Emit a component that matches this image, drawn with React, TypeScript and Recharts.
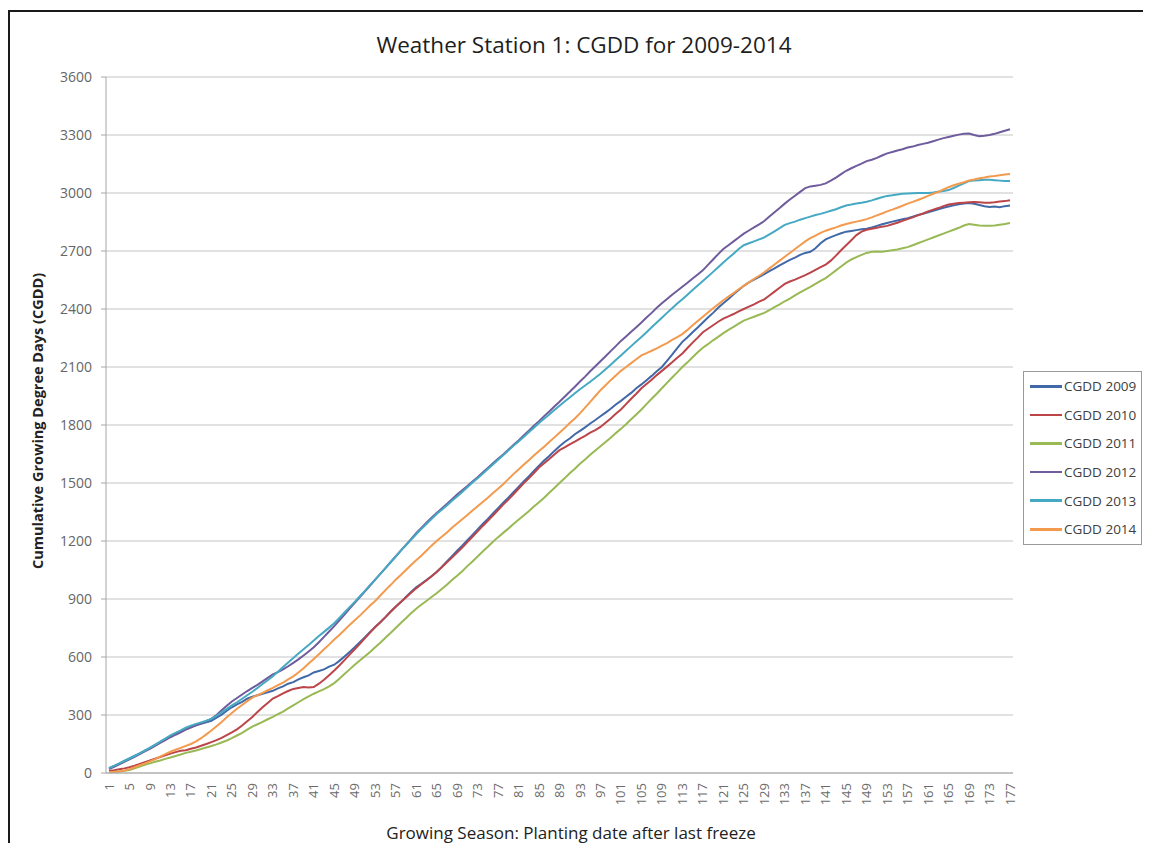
import React from "react";
import { LineChart, Line, XAxis, YAxis, CartesianGrid } from "recharts";

// days after last freeze
const days = Array.from({ length: 177 }, (_, i) => i + 1);

const yTicks = [0, 300, 600, 900, 1200, 1500, 1800, 2100, 2400, 2700, 3000, 3300, 3600];

const cgdd2009 = [
  25, 36, 48, 62, 75, 88, 101, 116, 130, 146, 160, 176, 190, 205, 216, 229, 240, 247, 255, 262, 270,
  286, 302, 322, 340, 355, 368, 384, 395, 402, 410, 418, 425, 438, 448, 462, 470, 484, 495, 505, 520,
  528, 536, 550, 560, 580, 602, 626, 650, 676, 702, 730, 755, 780, 806, 834, 860, 884, 910, 936, 960,
  978, 998, 1018, 1040, 1066, 1094, 1122, 1150, 1176, 1204, 1232, 1260, 1288, 1314, 1342, 1370,
  1398, 1424, 1452, 1480, 1508, 1534, 1562, 1590, 1616, 1640, 1666, 1690, 1712, 1730, 1752, 1770,
  1788, 1808, 1826, 1845, 1864, 1884, 1906, 1925, 1946, 1966, 1990, 2010, 2032, 2054, 2078, 2100,
  2132, 2164, 2198, 2230, 2254, 2280, 2304, 2330, 2356, 2380, 2406, 2430, 2452, 2476, 2498, 2520,
  2538, 2552, 2566, 2580, 2596, 2610, 2626, 2640, 2654, 2666, 2680, 2690, 2696, 2714, 2740, 2760,
  2772, 2782, 2792, 2800, 2804, 2808, 2812, 2815, 2822, 2830, 2838, 2845, 2852, 2858, 2864, 2870,
  2878, 2886, 2892, 2900, 2908, 2916, 2924, 2930, 2936, 2942, 2946, 2948, 2944, 2938, 2932, 2928,
  2930, 2926, 2932, 2935,
];

const cgdd2010 = [
  10, 14, 19, 24, 30, 38, 47, 56, 65, 74, 83, 92, 100, 108, 115, 118, 125, 132, 141, 150, 160,
  170, 182, 196, 210, 226, 246, 268, 290, 315, 340, 362, 385, 398, 412, 424, 435, 440, 445, 442, 445,
  462, 482, 506, 530, 556, 584, 612, 640, 668, 698, 726, 755, 780, 806, 834, 860, 884, 908, 932, 955,
  976, 996, 1018, 1040, 1064, 1090, 1114, 1140, 1166, 1194, 1222, 1250, 1278, 1304, 1332, 1360,
  1388, 1414, 1442, 1470, 1498, 1524, 1552, 1580, 1602, 1624, 1648, 1670, 1684, 1700, 1714, 1730,
  1744, 1760, 1774, 1790, 1812, 1834, 1858, 1880, 1908, 1936, 1962, 1990, 2012, 2034, 2058, 2080,
  2102, 2124, 2148, 2170, 2198, 2226, 2252, 2280, 2298, 2316, 2334, 2350, 2362, 2374, 2388, 2400,
  2412, 2424, 2438, 2450, 2470, 2490, 2510, 2530, 2542, 2552, 2564, 2575, 2588, 2602, 2616, 2630,
  2650, 2676, 2704, 2730, 2756, 2782, 2800, 2810, 2815, 2820, 2826, 2830, 2838, 2846, 2856, 2865,
  2874, 2884, 2894, 2905, 2914, 2922, 2932, 2940, 2944, 2948, 2950, 2952, 2954, 2952, 2950, 2950,
  2952, 2956, 2958, 2962,
];

const cgdd2011 = [
  5, 6, 8, 11, 15, 24, 33, 42, 50, 58, 65, 73, 80, 88, 96, 104, 110, 116, 124, 132, 140,
  148, 158, 168, 180, 194, 208, 224, 240, 252, 264, 278, 290, 304, 318, 334, 350, 366, 382, 396, 410,
  422, 434, 448, 465, 488, 512, 536, 560, 582, 604, 626, 650, 674, 700, 724, 750, 776, 800, 826, 850,
  870, 890, 910, 930, 952, 974, 998, 1020, 1044, 1070, 1094, 1120, 1146, 1170, 1196, 1220,
  1242, 1264, 1288, 1310, 1332, 1354, 1378, 1400, 1424, 1450, 1474, 1500, 1524, 1550, 1574, 1600,
  1622, 1646, 1668, 1690, 1712, 1734, 1758, 1780, 1804, 1830, 1854, 1880, 1908, 1936, 1962, 1990,
  2018, 2046, 2072, 2100, 2124, 2150, 2176, 2200, 2218, 2238, 2256, 2275, 2292, 2308, 2324, 2340,
  2350, 2360, 2370, 2380, 2394, 2410, 2424, 2440, 2454, 2470, 2486, 2500, 2514, 2530, 2546, 2560,
  2580, 2600, 2620, 2640, 2656, 2668, 2680, 2690, 2696, 2698, 2696, 2700, 2704, 2708, 2714, 2720,
  2730, 2740, 2750, 2760, 2770, 2780, 2790, 2800, 2810, 2820, 2832, 2840, 2836, 2832, 2830, 2830,
  2832, 2836, 2840, 2845,
];

const cgdd2012 = [
  20, 32, 45, 58, 70, 84, 98, 112, 125, 140, 156, 170, 185, 198, 210, 224, 235, 246, 258, 268, 280,
  300, 324, 348, 370, 388, 406, 424, 440, 456, 474, 492, 510, 522, 536, 552, 570, 588, 608, 628, 650,
  676, 704, 732, 760, 790, 820, 850, 880, 910, 940, 970, 1000, 1030, 1060, 1090, 1120, 1150, 1180, 1210, 1240,
  1268, 1294, 1320, 1345, 1368, 1392, 1416, 1440, 1462, 1484, 1508, 1530, 1554, 1578, 1602, 1625,
  1648, 1672, 1696, 1720, 1746, 1770, 1796, 1820, 1846, 1870, 1896, 1920, 1946, 1972, 1998, 2025,
  2050, 2078, 2104, 2130, 2156, 2182, 2208, 2235, 2258, 2282, 2306, 2330, 2356, 2380, 2406, 2430,
  2452, 2474, 2494, 2515, 2536, 2558, 2578, 2600, 2628, 2656, 2684, 2710, 2730, 2750, 2770, 2790,
  2806, 2822, 2838, 2855, 2878, 2900, 2922, 2945, 2966, 2986, 3006, 3025, 3034, 3038, 3042, 3050,
  3064, 3080, 3098, 3115, 3128, 3140, 3152, 3165, 3172, 3182, 3194, 3205, 3212, 3220, 3226, 3235,
  3240, 3248, 3254, 3260, 3268, 3276, 3284, 3290, 3296, 3302, 3306, 3308, 3300, 3294, 3296, 3300,
  3306, 3314, 3322, 3330,
];

const cgdd2013 = [
  25, 37, 50, 62, 75, 88, 102, 116, 130, 146, 162, 178, 195, 208, 220, 234, 245, 254, 262, 270, 280,
  296, 314, 332, 350, 366, 384, 402, 420, 440, 460, 480, 500, 524, 548, 572, 595, 618, 640, 662, 685,
  708, 730, 752, 775, 802, 830, 858, 885, 914, 942, 972, 1000, 1030, 1060, 1090, 1120, 1150, 1178, 1206, 1235,
  1262, 1288, 1314, 1340, 1362, 1384, 1408, 1430, 1454, 1478, 1502, 1525, 1548, 1572, 1596, 1620,
  1644, 1668, 1692, 1715, 1738, 1762, 1786, 1810, 1832, 1854, 1878, 1900, 1922, 1942, 1964, 1985,
  2004, 2024, 2044, 2065, 2088, 2112, 2136, 2160, 2184, 2208, 2232, 2255, 2280, 2306, 2330, 2355,
  2380, 2404, 2428, 2450, 2474, 2498, 2522, 2545, 2568, 2592, 2616, 2640, 2664, 2686, 2710, 2730,
  2740, 2750, 2760, 2770, 2786, 2802, 2818, 2835, 2844, 2852, 2862, 2870, 2878, 2886, 2892, 2900,
  2908, 2916, 2926, 2935, 2940, 2946, 2950, 2955, 2962, 2970, 2978, 2985, 2988, 2992, 2996, 2998,
  2999, 3000, 3000, 3000, 3002, 3006, 3010, 3015, 3026, 3038, 3050, 3062, 3064, 3066, 3068, 3068,
  3066, 3064, 3062, 3062,
];

const cgdd2014 = [
  5, 6, 8, 13, 20, 30, 40, 50, 60, 72, 85, 98, 110, 120, 130, 140, 150, 164, 180, 200, 220,
  242, 264, 288, 310, 332, 352, 372, 390, 402, 414, 428, 440, 454, 468, 484, 500, 520, 542, 566, 590,
  614, 640, 664, 690, 714, 740, 766, 790, 814, 840, 866, 890, 918, 946, 972, 1000, 1024, 1050, 1076, 1100,
  1124, 1150, 1176, 1200, 1222, 1244, 1268, 1290, 1312, 1334, 1358, 1380, 1402, 1424, 1448, 1470,
  1494, 1520, 1546, 1570, 1594, 1618, 1642, 1665, 1688, 1712, 1736, 1760, 1784, 1810, 1834, 1860,
  1890, 1920, 1950, 1980, 2006, 2032, 2056, 2080, 2100, 2120, 2140, 2160, 2172, 2184, 2196, 2210,
  2224, 2240, 2254, 2270, 2292, 2316, 2338, 2360, 2382, 2404, 2424, 2445, 2464, 2482, 2502, 2520,
  2538, 2556, 2572, 2590, 2610, 2630, 2650, 2670, 2690, 2710, 2730, 2750, 2766, 2780, 2794, 2805,
  2814, 2822, 2832, 2840, 2846, 2852, 2858, 2865, 2874, 2884, 2894, 2905, 2914, 2924, 2934, 2945,
  2954, 2964, 2974, 2985, 2996, 3006, 3018, 3030, 3040, 3048, 3056, 3065, 3070, 3076, 3080, 3085,
  3088, 3092, 3096, 3098,
];

const SERIES = [
  { key: "c2009", name: "CGDD 2009", color: "#4169a8", values: cgdd2009 },
  { key: "c2010", name: "CGDD 2010", color: "#bb4549", values: cgdd2010 },
  { key: "c2011", name: "CGDD 2011", color: "#98b954", values: cgdd2011 },
  { key: "c2012", name: "CGDD 2012", color: "#6f5c9c", values: cgdd2012 },
  { key: "c2013", name: "CGDD 2013", color: "#46a9c3", values: cgdd2013 },
  { key: "c2014", name: "CGDD 2014", color: "#f39a4e", values: cgdd2014 },
];

const data = days.map((d, i) => {
  const row: any = { day: d };
  SERIES.forEach((s) => {
    row[s.key] = s.values[i];
  });
  return row;
});

const FONT = "'Open Sans', sans-serif";

function DayTick({ x, y, payload }: any) {
  return (
    <text
      x={x}
      y={y}
      transform={`rotate(-90, ${x}, ${y})`}
      textAnchor='end'
      dy='0.35em'
      fontSize={13}
      fill='#6b6b6b'
      fontFamily={FONT}
    >
      {payload.value}
    </text>
  );
}

export default function App() {
  return (
    <div
      style={{
        position: "relative",
        top: 2,
        width: 1135,
        height: 835,
        boxSizing: "border-box",
        borderLeft: "2px solid #1a1a1a",
        borderTop: "2px solid #1a1a1a",
        fontFamily: FONT,
        background: "#fff",
      }}
    >
      <div
        style={{
          position: "absolute",
          left: 274,
          top: 20,
          width: 600,
          textAlign: "center",
          fontSize: 22.5,
          lineHeight: "26px",
          color: "#1e1e1e",
        }}
      >
        Weather Station 1: CGDD for 2009-2014
      </div>

      <div
        style={{
          position: "absolute",
          left: -172,
          top: 399,
          width: 400,
          height: 20,
          lineHeight: "20px",
          textAlign: "center",
          fontSize: 14.5,
          fontWeight: "bold",
          color: "#222",
          transform: "rotate(-90deg)",
        }}
      >
        Cumulative Growing Degree Days (CGDD)
      </div>

      <div
        style={{
          position: "absolute",
          left: 311,
          top: 810,
          width: 500,
          lineHeight: "22px",
          textAlign: "center",
          fontSize: 17,
          color: "#222",
        }}
      >
        Growing Season: Planting date after last freeze
      </div>

      <div style={{ position: "absolute", left: 0, top: 0 }}>
        <LineChart
          width={1133}
          height={833}
          data={data}
          margin={{ top: 65, right: 130, bottom: 28, left: 36 }}
        >
          <CartesianGrid vertical={false} stroke='#c4c4c4' />
          <XAxis
            dataKey='day'
            interval={3}
            height={44}
            tick={<DayTick />}
            tickLine={false}
            tickSize={0}
            tickMargin={10}
            axisLine={{ stroke: "#a6a6a6" }}
            padding={{ left: 3, right: 3 }}
          />
          <YAxis
            width={60}
            domain={[0, 3600]}
            ticks={yTicks}
            interval={0}
            tickSize={5}
            tickMargin={9}
            tick={{ fontSize: 14, fill: "#666", fontFamily: FONT }}
            tickLine={{ stroke: "#a6a6a6" }}
            axisLine={{ stroke: "#a6a6a6" }}
          />
          {SERIES.map((s) => (
            <Line
              key={s.key}
              type='linear'
              dataKey={s.key}
              name={s.name}
              stroke={s.color}
              strokeWidth={2}
              dot={false}
              isAnimationActive={false}
            />
          ))}
        </LineChart>
      </div>

      <div
        style={{
          position: "absolute",
          left: 1013,
          top: 359,
          width: 119,
          height: 174,
          boxSizing: "border-box",
          border: "1px solid #9a9a9a",
          background: "#fff",
        }}
      >
        {SERIES.map((s) => (
          <div
            key={s.key}
            style={{ display: "flex", alignItems: "center", height: 28.6 }}
          >
            <div
              style={{
                marginLeft: 6,
                width: 32,
                height: 2.5,
                background: s.color,
              }}
            />
            <span
              style={{
                marginLeft: 2,
                fontSize: 13.5,
                color: "#404040",
                whiteSpace: "nowrap",
              }}
            >
              {s.name}
            </span>
          </div>
        ))}
      </div>
    </div>
  );
}
